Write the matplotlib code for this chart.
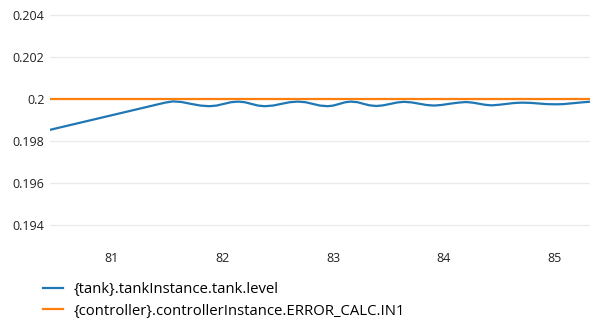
import numpy as np
import matplotlib.pyplot as plt
from matplotlib.ticker import FuncFormatter

plt.rcParams['font.family'] = ['Open Sans', 'DejaVu Sans']

# time (s) and values
time = [80.44, 81.48, 81.55,
        81.63, 81.715, 81.80, 81.88,
        81.945, 82.01, 82.075, 82.14,
        82.20, 82.26, 82.32, 82.38,
        82.455, 82.53, 82.605, 82.68,
        82.75, 82.815, 82.88, 82.95,
        83.00, 83.055, 83.11, 83.16,
        83.22, 83.275, 83.33, 83.39,
        83.45, 83.515, 83.58, 83.64,
        83.71, 83.775, 83.84, 83.91,
        83.98, 84.055, 84.13, 84.20,
        84.26, 84.315, 84.37, 84.43,
        84.50, 84.565, 84.63, 84.70,
        84.78, 84.855, 84.93, 85.01,
        85.08, 85.16, 85.24, 85.31]
level = [0.19853, 0.19983, 0.19989,
         0.19986, 0.19977, 0.19969, 0.19966,
         0.19969, 0.19977, 0.19985, 0.19988,
         0.19985, 0.19977, 0.19969, 0.19966,
         0.19969, 0.19977, 0.19985, 0.19988,
         0.19985, 0.19977, 0.19969, 0.19966,
         0.19969, 0.19977, 0.19985, 0.19988,
         0.19985, 0.19977, 0.19970, 0.19967,
         0.19970, 0.19977, 0.19984, 0.19987,
         0.19984, 0.19978, 0.19972, 0.19969,
         0.19972, 0.19978, 0.19983, 0.19986,
         0.19983, 0.19978, 0.19973, 0.19970,
         0.19973, 0.19977, 0.19981, 0.19983,
         0.19982, 0.19979, 0.19976, 0.19975,
         0.19976, 0.19980, 0.19984, 0.19987]
setpoint_time = [80.44, 85.32]
setpoint = [0.2, 0.2]

labels = ['{tank}.tankInstance.tank.level',
          '{controller}.controllerInstance.ERROR_CALC.IN1']
xticks = [81, 82, 83, 84, 85]
yticks = [0.194, 0.196, 0.198, 0.2, 0.202, 0.204]

fig = plt.figure(figsize=(5.9, 3.34), dpi=100)
ax = fig.add_axes([50 / 590, 1 - 235 / 334, 540 / 590, 230 / 334])

ax.plot(time, level, color='#1f77b4', lw=1.6, label=labels[0], zorder=3,
        solid_joinstyle='round')
ax.plot(setpoint_time, setpoint, color='#ff7f0e', lw=1.6, label=labels[1], zorder=3)

ax.set_xlim(80.44, 85.32)
ax.set_ylim(0.1935, 0.2045)
ax.set_xticks(xticks)
ax.set_yticks(yticks)
ax.yaxis.set_major_formatter(FuncFormatter(lambda v, p: '{:g}'.format(round(v, 3))))

ax.grid(axis='y', color='#ebebeb', lw=1)
ax.set_axisbelow(True)
for s in ax.spines.values():
    s.set_visible(False)
ax.tick_params(axis='both', length=0, labelsize=9, colors='#222222')
ax.tick_params(axis='x', pad=12)
ax.tick_params(axis='y', pad=4)

fig.legend(loc='upper left', bbox_to_anchor=(43 / 590, 1 - 282 / 334),
           frameon=False, fontsize=10.7, handlelength=1.35, handletextpad=0.68,
           labelspacing=0.45, borderaxespad=0, borderpad=0)

fig.savefig('out.png', dpi=100)
